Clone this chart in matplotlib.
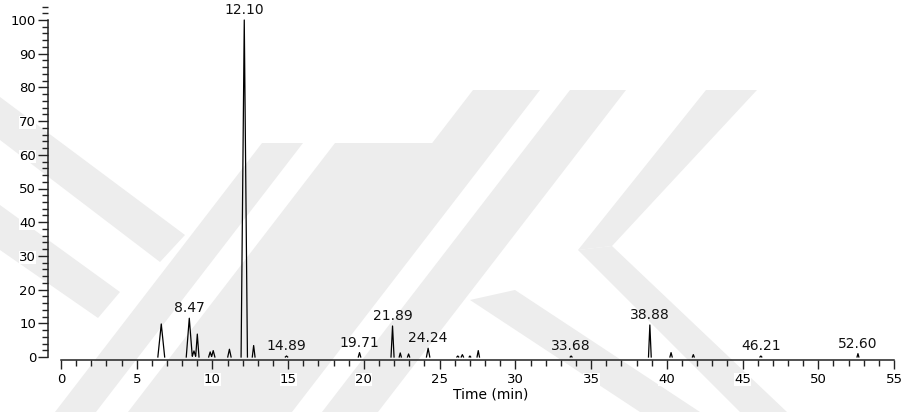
import numpy as np
import matplotlib
matplotlib.use("Agg")
import matplotlib.pyplot as plt
from matplotlib.patches import Polygon
from matplotlib.ticker import MultipleLocator

# Peak table: retention time (min), relative abundance (%), base width (min)
peak_rt = [6.62, 8.47, 8.78, 9.00, 9.85, 10.05, 11.12, 12.10, 12.72, 14.89,
           19.71, 21.89, 22.40, 22.95, 24.24, 26.20, 26.50, 27.00, 27.55,
           33.68, 38.88, 40.28, 41.75, 46.21, 52.62]
peak_height = [9.8, 11.5, 1.8, 6.8, 1.5, 1.9, 2.3, 100.0, 3.4, 0.3,
               1.3, 9.2, 1.2, 0.9, 2.6, 0.3, 0.7, 0.3, 1.9,
               0.3, 9.5, 1.3, 0.7, 0.3, 1.0]
peak_width = [0.45, 0.40, 0.25, 0.22, 0.20, 0.22, 0.22, 0.42, 0.18, 0.15,
              0.16, 0.20, 0.14, 0.14, 0.22, 0.12, 0.15, 0.10, 0.16,
              0.12, 0.18, 0.15, 0.12, 0.12, 0.12]

# labelled peaks
label_rt = [8.47, 12.10, 14.89, 19.71, 21.89, 24.24, 33.68, 38.88, 46.21, 52.60]
label_text = ["8.47", "12.10", "14.89", "19.71", "21.89", "24.24",
              "33.68", "38.88", "46.21", "52.60"]

x_ticks = [0, 5, 10, 15, 20, 25, 30, 35, 40, 45, 50, 55]
y_ticks = [0, 10, 20, 30, 40, 50, 60, 70, 80, 90, 100]

W, H = 908, 412
fig = plt.figure(figsize=(W / 100, H / 100), dpi=100)
fig.patch.set_facecolor("white")

# light background stripes (pixel coords, y down)
wm_color = "#ededed"
bands = [
    [(0, 97), (185, 235), (160, 262), (0, 140)],
    [(262, 143), (303, 143), (96, 412), (55, 412)],
    [(0, 205), (120, 292), (98, 318), (0, 250)],
    [(335, 143), (433, 143), (226, 412), (128, 412)],
    [(473, 90), (540, 90), (292, 412), (225, 412)],
    [(570, 90), (626, 90), (378, 412), (322, 412)],
    [(706, 90), (757, 90), (612, 246), (578, 250)],
    [(578, 250), (612, 246), (787, 412), (740, 412)],
    [(470, 300), (515, 290), (700, 412), (640, 412)],
]
for b in bands:
    pts = [(x / W, 1 - y / H) for x, y in b]
    fig.patches.append(Polygon(pts, closed=True, transform=fig.transFigure,
                               facecolor=wm_color, edgecolor="none", zorder=0))

# axes placement in pixels
px_per_min = 833 / 55.0
x0_px = 61
left_px, right_px = 48, 905
y0_px, y100_px = 357, 20
px_per_pct = (y0_px - y100_px) / 100.0
bottom_px, top_px = 360, 5

ax = fig.add_axes([left_px / W, 1 - bottom_px / H,
                   (right_px - left_px) / W, (bottom_px - top_px) / H])
ax.set_zorder(2)
ax.patch.set_alpha(0)
ax.set_xlim((left_px - x0_px) / px_per_min, (right_px - x0_px) / px_per_min)
ax.set_ylim((y0_px - bottom_px) / px_per_pct, (y0_px - top_px) / px_per_pct)

# build the trace from triangular peaks
rt = np.array(peak_rt)
hh = np.array(peak_height)
ww = np.array(peak_width)
t = np.unique(np.concatenate([rt - ww / 2, rt, rt + ww / 2]))
y = np.zeros_like(t)
for r, h, w in zip(rt, hh, ww):
    y += h * np.clip(1 - np.abs(t - r) / (w / 2), 0, None)

# draw only the parts above baseline
pos = y > 1e-9
i = 0
n = len(t)
while i < n:
    if pos[i]:
        j = i
        while j < n and pos[j]:
            j += 1
        a, b = max(i - 1, 0), min(j, n - 1)
        ax.plot(t[a:b + 1], y[a:b + 1], color="black", lw=0.9, zorder=3)
        i = j
    else:
        i += 1

# peak labels
for r, s in zip(label_rt, label_text):
    k = int(np.argmin(np.abs(rt - r)))
    ax.annotate(s, (r, peak_height[k]), xytext=(0, 2), textcoords="offset points",
                ha="center", va="bottom", fontsize=10, color="#111111")

for side in ["top", "right"]:
    ax.spines[side].set_visible(False)
ax.spines["left"].set_bounds(0, 100)
ax.spines["bottom"].set_bounds(0, 55)
for side in ["left", "bottom"]:
    ax.spines[side].set_linewidth(1.1)
    ax.spines[side].set_color("#222222")

ax.set_xticks(x_ticks)
ax.set_yticks(y_ticks)
ax.xaxis.set_minor_locator(MultipleLocator(1))
ax.yaxis.set_minor_locator(MultipleLocator(2))
ax.tick_params(axis="both", which="major", direction="out", width=1.0,
               color="#222222", labelsize=9.5)
ax.tick_params(axis="x", which="major", length=6.5, pad=3)
ax.tick_params(axis="y", which="major", length=7, pad=1.5)
ax.tick_params(axis="x", which="minor", length=4, width=1.0, color="#222222")
ax.tick_params(axis="y", which="minor", length=4.5, width=1.0, color="#222222")
for lab in ax.get_xticklabels() + ax.get_yticklabels():
    lab.set_bbox(dict(facecolor="white", edgecolor="none", pad=0))

ax.set_xlabel("Time (min)", fontsize=10)
ax.xaxis.set_label_coords((491 - left_px) / (right_px - left_px),
                          (bottom_px - 395) / (bottom_px - top_px))
ax.xaxis.label.set_va("center")

fig.savefig("out.png", dpi=100, facecolor="white")
